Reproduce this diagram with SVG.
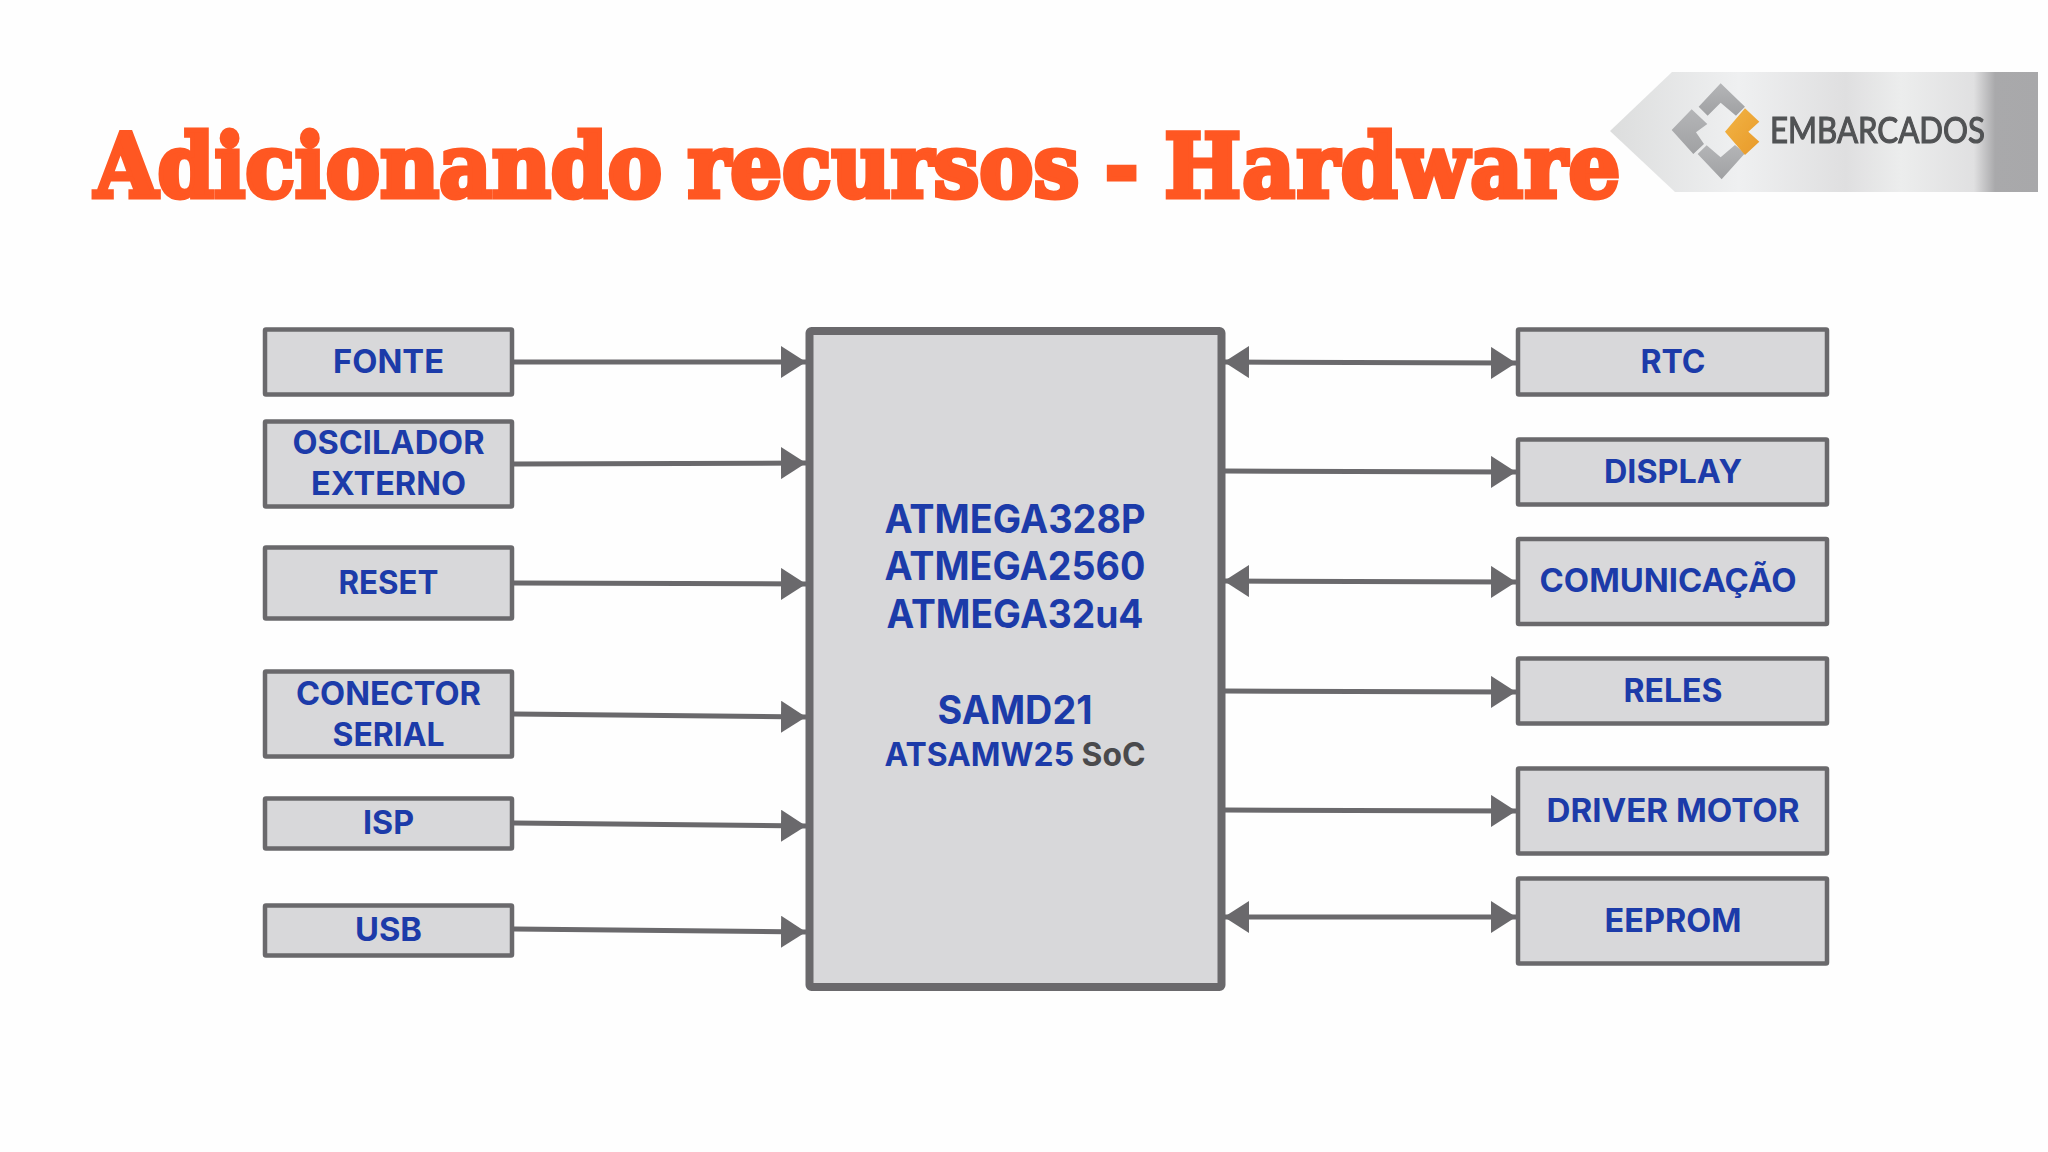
<svg xmlns="http://www.w3.org/2000/svg" width="2048" height="1152" viewBox="0 0 2048 1152">
<style>
.box{fill:#d8d8da;stroke:#6a696c;stroke-width:4.500}
.cpu{fill:#d8d8da;stroke:#6a696c;stroke-width:8}
.t{font-family:Inter,"Open Sans","Liberation Sans",sans-serif;font-weight:700;fill:#1c3ba9;text-anchor:middle}
.s{font-size:32px}
.m{font-size:39px}
.c{fill:none;stroke:#6a696c;stroke-width:5}
.a{marker-end:url(#ah)}
.b{marker-start:url(#ah);marker-end:url(#ah)}
</style>
<defs>
<marker id="ah" markerUnits="userSpaceOnUse" markerWidth="26" markerHeight="32" refX="25" refY="16" orient="auto-start-reverse"><path d="M0 0L25 16L0 32Z" fill="#6a696c"/></marker>
<linearGradient id="lg" x1="0" x2="1" y1="0" y2="0">
<stop offset="0" stop-color="#dcdddd"/><stop offset=".3" stop-color="#eff0f1"/><stop offset=".55" stop-color="#dfdfe0"/><stop offset=".68" stop-color="#eceded"/><stop offset=".85" stop-color="#e0e0e1"/><stop offset=".9" stop-color="#a9a9ab"/><stop offset="1" stop-color="#a8a8aa"/>
</linearGradient>
<linearGradient id="og" x1="0" x2="1" y1="0" y2="1"><stop offset="0" stop-color="#f2b445"/><stop offset="1" stop-color="#e89a2a"/></linearGradient>
<linearGradient id="gg" x1="0" x2="0" y1="0" y2="1"><stop offset="0" stop-color="#b4b5b7"/><stop offset="1" stop-color="#a0a1a3"/></linearGradient>
<filter id="soft" x="-5%" y="-5%" width="110%" height="110%"><feGaussianBlur stdDeviation=".7"/></filter>
</defs>
<rect width="2048" height="1152" fill="#fefefe"/>
<text id="title" transform="translate(94.500 197) scale(.924 1)" word-spacing="-3" font-family="'DejaVu Serif','Liberation Serif',serif" font-weight="700" font-size="88" fill="#ff5722" stroke="#ff5722" stroke-width="5" stroke-linejoin="miter">Adicionando recursos - <tspan letter-spacing="1.500">Hardware</tspan></text>
<g id="logo" filter="url(#soft)">
<polygon points="1610,131 1672,72 2038,72 2038,192 1675,192" fill="url(#lg)"/>
<g transform="translate(1560 50) scale(.3333)">
<polygon points="482,100 555,170 528,197 482,158 443,197 416,170" fill="url(#gg)"/>
<polygon points="335,240 395,178 442,222 408,247 432,282 400,312" fill="url(#gg)"/>
<polygon points="413,312 440,286 482,322 525,285 555,310 485,388" fill="url(#gg)"/>
<polygon points="555,175 598,215 565,245 598,275 555,315 495,245" fill="url(#og)"/>
</g>
<text x="1770" y="143" textLength="215" lengthAdjust="spacingAndGlyphs" font-family="Lato,'Liberation Sans',sans-serif" font-size="36" fill="#515254" stroke="#515254" stroke-width="1.200">EMBARCADOS</text>
</g>
<g id="connectors">
<line class="c a" x1="514" y1="362" x2="806" y2="362"/>
<line class="c a" x1="514" y1="464" x2="806" y2="463"/>
<line class="c a" x1="514" y1="583" x2="806" y2="584"/>
<line class="c a" x1="514" y1="714" x2="806" y2="717"/>
<line class="c a" x1="514" y1="823" x2="806" y2="826"/>
<line class="c a" x1="514" y1="929" x2="806" y2="932"/>
<line class="c b" x1="1224" y1="362" x2="1516" y2="363"/>
<line class="c a" x1="1224" y1="471" x2="1516" y2="472"/>
<line class="c b" x1="1224" y1="581" x2="1516" y2="582"/>
<line class="c a" x1="1224" y1="691" x2="1516" y2="692"/>
<line class="c a" x1="1224" y1="810" x2="1516" y2="811"/>
<line class="c b" x1="1224" y1="917" x2="1516" y2="917"/>
</g>
<g id="cpu"><rect class="cpu" x="809.500" y="331" width="412" height="656" rx="2"/>
<text class="t m" x="1015" y="533" textLength="261" lengthAdjust="spacingAndGlyphs">ATMEGA328P</text>
<text class="t m" x="1015" y="580" textLength="261" lengthAdjust="spacingAndGlyphs">ATMEGA2560</text>
<text class="t m" x="1015" y="628" textLength="257" lengthAdjust="spacingAndGlyphs">ATMEGA32u4</text>
<text class="t m" x="1015" y="724" textLength="155" lengthAdjust="spacingAndGlyphs">SAMD21</text>
<text class="t s" x="1015" y="766" textLength="261" lengthAdjust="spacingAndGlyphs">ATSAMW25 <tspan fill="#4a4a4c">SoC</tspan></text>
</g>
<g id="fonte"><rect class="box" x="265" y="329.500" width="247" height="65" rx="1"/><text class="t s" x="388.500" y="373" textLength="111" lengthAdjust="spacingAndGlyphs">FONTE</text></g>
<g id="oscilador"><rect class="box" x="265" y="421.500" width="247" height="85" rx="1"/><text class="t s" x="388.500" y="454" textLength="192" lengthAdjust="spacingAndGlyphs">OSCILADOR</text><text class="t s" x="388.500" y="495" textLength="155" lengthAdjust="spacingAndGlyphs">EXTERNO</text></g>
<g id="reset"><rect class="box" x="265" y="547.500" width="247" height="71" rx="1"/><text class="t s" x="388.500" y="594" textLength="100" lengthAdjust="spacingAndGlyphs">RESET</text></g>
<g id="conector"><rect class="box" x="265" y="671.500" width="247" height="85" rx="1"/><text class="t s" x="388.500" y="705" textLength="185" lengthAdjust="spacingAndGlyphs">CONECTOR</text><text class="t s" x="388.500" y="745.500" textLength="112" lengthAdjust="spacingAndGlyphs">SERIAL</text></g>
<g id="isp"><rect class="box" x="265" y="798.500" width="247" height="50" rx="1"/><text class="t s" x="388.500" y="834" textLength="51" lengthAdjust="spacingAndGlyphs">ISP</text></g>
<g id="usb"><rect class="box" x="265" y="905.500" width="247" height="50" rx="1"/><text class="t s" x="388.500" y="941" textLength="67" lengthAdjust="spacingAndGlyphs">USB</text></g>
<g id="rtc"><rect class="box" x="1518" y="329.500" width="309" height="65" rx="1"/><text class="t s" x="1673" y="373" textLength="65" lengthAdjust="spacingAndGlyphs">RTC</text></g>
<g id="display"><rect class="box" x="1518" y="439.500" width="309" height="65" rx="1"/><text class="t s" x="1673" y="483" textLength="138" lengthAdjust="spacingAndGlyphs">DISPLAY</text></g>
<g id="comunicacao"><rect class="box" x="1518" y="539" width="309" height="85" rx="1"/><text class="t s" x="1668" y="592" textLength="257" lengthAdjust="spacingAndGlyphs">COMUNICAÇÃO</text></g>
<g id="reles"><rect class="box" x="1518" y="658.500" width="309" height="65" rx="1"/><text class="t s" x="1673" y="702" textLength="99" lengthAdjust="spacingAndGlyphs">RELES</text></g>
<g id="driver"><rect class="box" x="1518" y="768.500" width="309" height="85" rx="1"/><text class="t s" x="1673" y="822" textLength="253" lengthAdjust="spacingAndGlyphs">DRIVER MOTOR</text></g>
<g id="eeprom"><rect class="box" x="1518" y="878.500" width="309" height="85" rx="1"/><text class="t s" x="1673" y="932" textLength="137" lengthAdjust="spacingAndGlyphs">EEPROM</text></g>
</svg>
